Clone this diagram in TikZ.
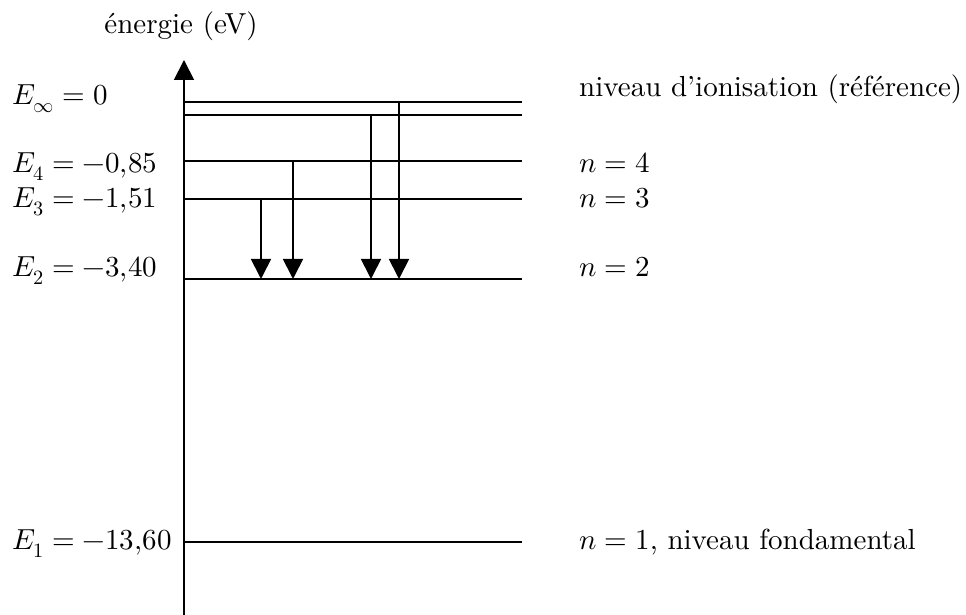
\documentclass[tikz,border=0pt]{standalone}
\usepackage{fontspec}
\usepackage{unicode-math}
\setmainfont{lmroman10-regular.otf}[ItalicFont=lmroman10-italic.otf,BoldFont=lmroman10-bold.otf]
\setmathfont{Latin Modern Math}
\usetikzlibrary{arrows.meta}
\begin{document}
\begin{tikzpicture}[x=1pt,y=1pt,
  lbl/.style={inner sep=0pt,font=\fontsize{29}{34}\selectfont},
  axisline/.style={line width=1.8pt,-{Triangle[length=20pt,width=20pt]}},
  levelline/.style={line width=1.8pt},
  transline/.style={line width=1.8pt,-{Triangle[length=20pt,width=20pt]}}]
\useasboundingbox (0,0) rectangle (966,615);
% axis
\coordinate (O) at (184,0);
\coordinate (T) at (184,555);
\draw[axisline] (O) -- (T);
% levels
\coordinate (Linf-a) at (184,513); \coordinate (Linf-b) at (522,513);
\coordinate (Lb-a) at (184,500);   \coordinate (Lb-b) at (522,500);
\coordinate (L4-a) at (184,454);   \coordinate (L4-b) at (522,454);
\coordinate (L3-a) at (184,416);   \coordinate (L3-b) at (522,416);
\coordinate (L2-a) at (184,336);   \coordinate (L2-b) at (522,336);
\coordinate (L1-a) at (184,73);    \coordinate (L1-b) at (522,73);
\draw[levelline] (Linf-a) -- (Linf-b);
\draw[levelline] (Lb-a) -- (Lb-b);
\draw[levelline] (L4-a) -- (L4-b);
\draw[levelline] (L3-a) -- (L3-b);
\draw[levelline] (L2-a) -- (L2-b);
\draw[levelline] (L1-a) -- (L1-b);
% transitions
\coordinate (t1s) at (261,416); \coordinate (t1e) at (261,336);
\coordinate (t2s) at (293,454); \coordinate (t2e) at (293,336);
\coordinate (t3s) at (371,500); \coordinate (t3e) at (371,336);
\coordinate (t4s) at (399,513); \coordinate (t4e) at (399,336);
\draw[transline] (t1s) -- (t1e);
\draw[transline] (t2s) -- (t2e);
\draw[transline] (t3s) -- (t3e);
\draw[transline] (t4s) -- (t4e);
% labels
\node[lbl,anchor=base] (title) at (181,581) {énergie (eV)};
\node[lbl,anchor=base west] (einf) at (12,510) {$E_\infty = 0$};
\node[lbl,anchor=base west] (e4) at (12,442) {$E_4 = -0{,}85$};
\node[lbl,anchor=base west] (e3) at (12,407) {$E_3 = -1{,}51$};
\node[lbl,anchor=base west] (e2) at (12,338) {$E_2 = -3{,}40$};
\node[lbl,anchor=base west] (e1) at (12,65) {$E_1 = -13{,}60$};
\node[lbl,anchor=base west] (rinf) at (579,518) {niveau d’ionisation (référence)};
\node[lbl,anchor=base west] (r4) at (579,442) {$n = 4$};
\node[lbl,anchor=base west] (r3) at (579,407) {$n = 3$};
\node[lbl,anchor=base west] (r2) at (579,338) {$n = 2$};
\node[lbl,anchor=base west] (r1) at (579,65) {$n = 1$, niveau fondamental};
\end{tikzpicture}
\end{document}
